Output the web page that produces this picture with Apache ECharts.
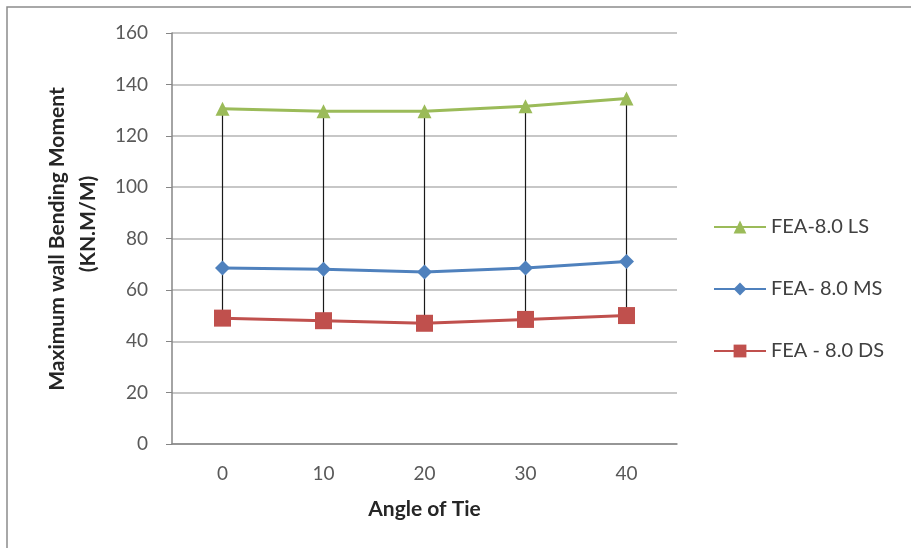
<!DOCTYPE html>
<html><head><meta charset="utf-8">
<script src="https://cdn.jsdelivr.net/npm/echarts@6/dist/echarts.min.js"></script>
<style>html,body{margin:0;padding:0;background:#fff}#c{width:911px;height:548px}</style>
</head><body><div id="c"></div>
<script>
const categories = ['0', '10', '20', '30', '40'];
const lsValues = [130.5, 129.5, 129.5, 131.5, 134.5];
const msValues = [68.5, 68, 67, 68.5, 71];
const dsValues = [49, 48, 47, 48.5, 50];
const yTicks = { min: 0, max: 160, interval: 20 };
const seriesNames = ['FEA-8.0 LS', 'FEA- 8.0 MS', 'FEA - 8.0 DS'];
const yTitleLines = ['Maximum wall Bending Moment', '(KN.M/M)'];
const xTitle = 'Angle of Tie';

const font = 'Lato, "Open Sans", "DejaVu Sans", sans-serif';
const hiLo = categories.map((c, i) => [i, Math.min(lsValues[i], msValues[i], dsValues[i]), Math.max(lsValues[i], msValues[i], dsValues[i])]);
const titleStyle = { fontFamily: font, fontSize: 21, fontWeight: 'bold', fill: '#262626', textAlign: 'center', textVerticalAlign: 'middle' };

const chart = echarts.init(document.getElementById('c'));
chart.setOption({
  animation: false,
  backgroundColor: '#fff',
  graphic: [
    { type: 'rect', shape: { x: 7, y: 7, width: 920, height: 560 }, style: { fill: 'none', stroke: '#8c8c8c', lineWidth: 1.5 }, silent: true },
    { type: 'text', x: 57, y: 239, rotation: Math.PI / 2, style: Object.assign({ text: yTitleLines[0] }, titleStyle), silent: true },
    { type: 'text', x: 88, y: 224, rotation: Math.PI / 2, style: Object.assign({ text: yTitleLines[1] }, titleStyle), silent: true }
  ],
  grid: { left: 172, right: 234, top: 33, bottom: 104 },
  legend: {
    orient: 'vertical', left: 708, top: 212, itemGap: 42, itemWidth: 52, itemHeight: 16,
    textStyle: { fontFamily: font, fontSize: 20, color: '#404040' },
    data: seriesNames
  },
  xAxis: {
    type: 'category', data: categories, boundaryGap: true,
    name: xTitle, nameLocation: 'middle', nameGap: 55,
    nameTextStyle: { fontFamily: font, fontSize: 21, fontWeight: 'bold', color: '#262626' },
    axisLine: { lineStyle: { color: '#868686', width: 1.5 } },
    axisTick: { show: false },
    axisLabel: { fontFamily: font, fontSize: 19, color: '#595959', margin: 20 }
  },
  yAxis: {
    type: 'value', min: yTicks.min, max: yTicks.max, interval: yTicks.interval,
    axisLine: { show: true, lineStyle: { color: '#868686', width: 1.5 } },
    axisTick: { show: true, length: 6, lineStyle: { color: '#868686' } },
    axisLabel: { fontFamily: font, fontSize: 19, color: '#595959', margin: 24 },
    splitLine: { lineStyle: { color: '#b5b5b5', width: 1.5 } }
  },
  series: [
    {
      type: 'custom', name: 'hilo', silent: true, z: 1,
      data: hiLo,
      renderItem: function (params, api) {
        const a = api.coord([api.value(0), api.value(1)]);
        const b = api.coord([api.value(0), api.value(2)]);
        return { type: 'line', shape: { x1: a[0], y1: a[1], x2: b[0], y2: b[1] }, style: { stroke: '#1a1a1a', lineWidth: 1.2 } };
      }
    },
    { name: seriesNames[0], type: 'line', data: lsValues, z: 3, color: '#9BBB59', symbol: 'triangle', symbolSize: 14, lineStyle: { width: 3 }, itemStyle: { color: '#9BBB59' } },
    { name: seriesNames[1], type: 'line', data: msValues, z: 3, color: '#4F81BD', symbol: 'diamond', symbolSize: 15, lineStyle: { width: 3 }, itemStyle: { color: '#4F81BD' } },
    { name: seriesNames[2], type: 'line', data: dsValues, z: 3, color: '#C0504D', symbol: 'rect', symbolSize: 17, lineStyle: { width: 3 }, itemStyle: { color: '#C0504D' } }
  ]
});
</script></body></html>
